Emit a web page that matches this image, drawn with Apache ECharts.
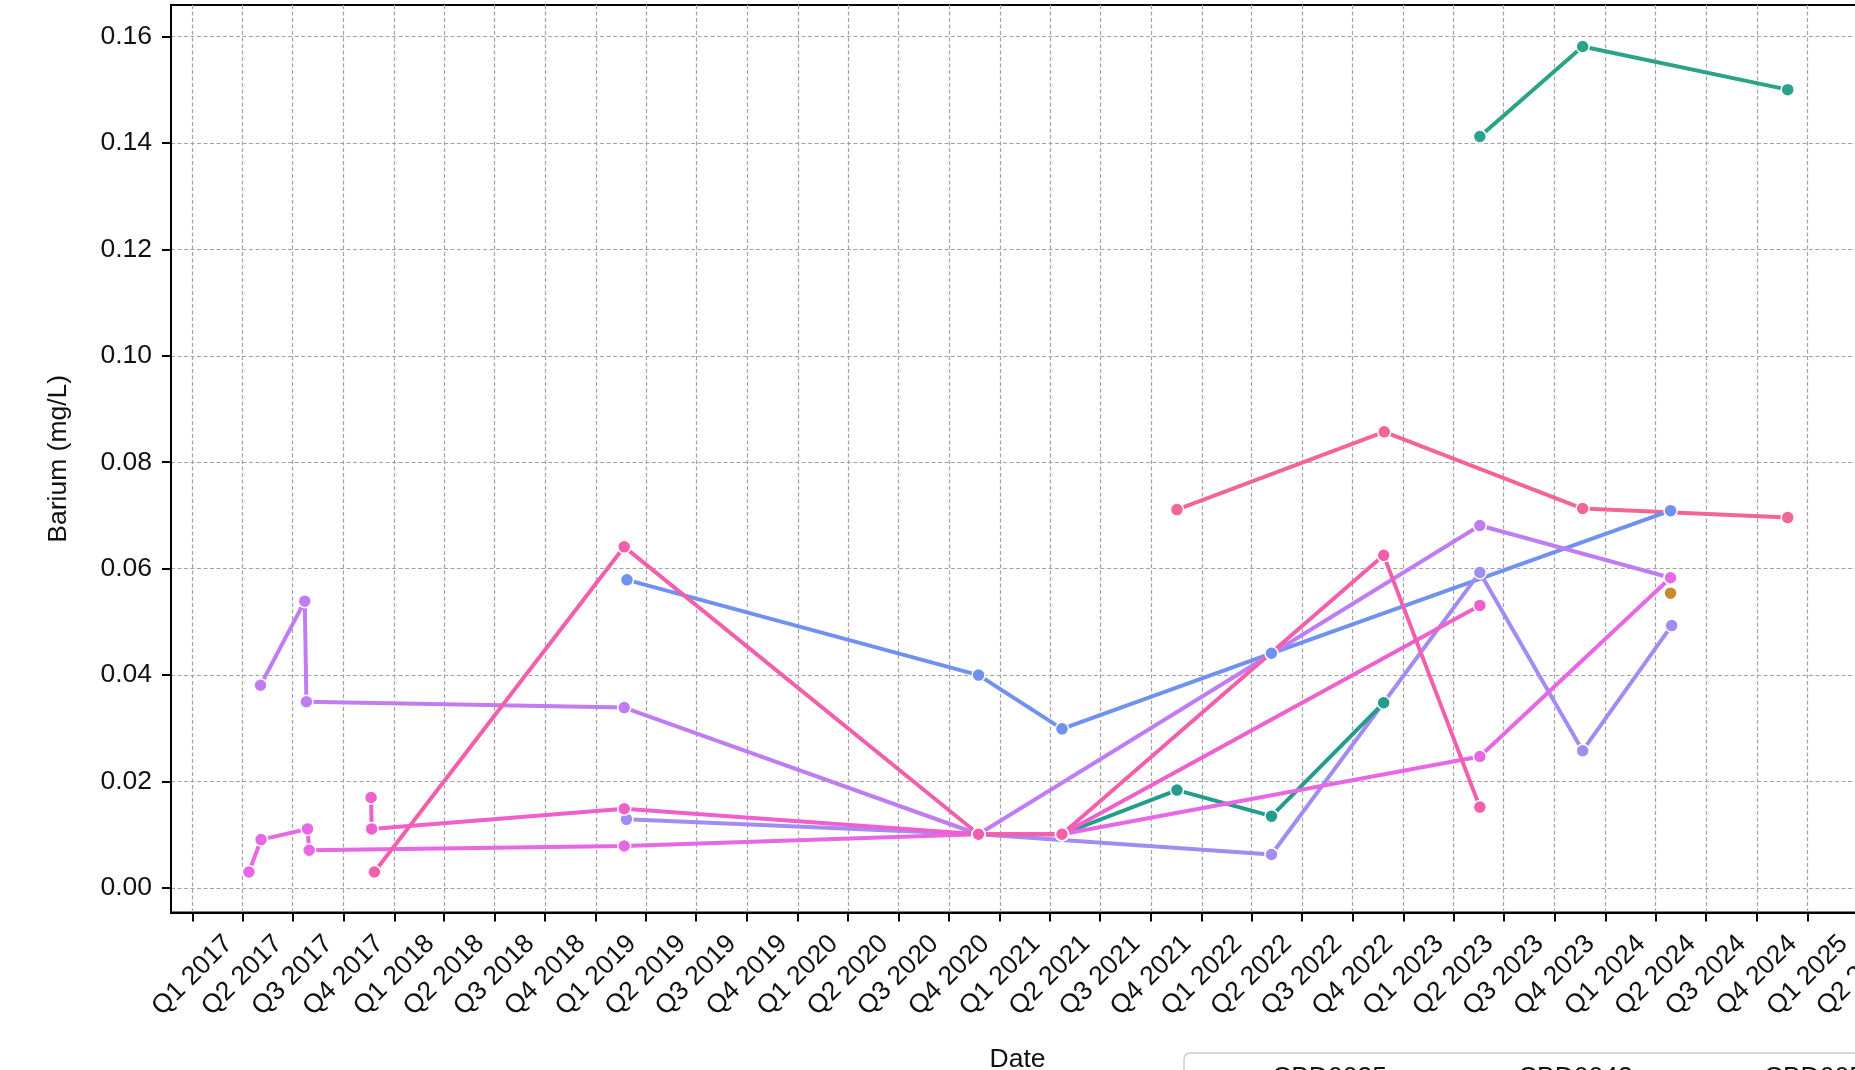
<!DOCTYPE html>
<html>
<head>
<meta charset="utf-8">
<script src="https://cdn.jsdelivr.net/npm/echarts@6/dist/echarts.min.js"></script>
<style>
html,body{margin:0;padding:0;background:#fff;overflow:hidden}
#chart{width:1855px;height:1070px}
</style>
</head>
<body>
<div id="chart"></div>
<script>
// ---- tick positions and labels ----
const quarterStarts = ['2017-01-01','2017-04-01','2017-07-01','2017-10-01','2018-01-01','2018-04-01','2018-07-01','2018-10-01','2019-01-01','2019-04-01','2019-07-01','2019-10-01','2020-01-01','2020-04-01','2020-07-01','2020-10-01','2021-01-01','2021-04-01','2021-07-01','2021-10-01','2022-01-01','2022-04-01','2022-07-01','2022-10-01','2023-01-01','2023-04-01','2023-07-01','2023-10-01','2024-01-01','2024-04-01','2024-07-01','2024-10-01','2025-01-01','2025-04-01'];
const quarterLabels = ['Q1 2017','Q2 2017','Q3 2017','Q4 2017','Q1 2018','Q2 2018','Q3 2018','Q4 2018','Q1 2019','Q2 2019','Q3 2019','Q4 2019','Q1 2020','Q2 2020','Q3 2020','Q4 2020','Q1 2021','Q2 2021','Q3 2021','Q4 2021','Q1 2022','Q2 2022','Q3 2022','Q4 2022','Q1 2023','Q2 2023','Q3 2023','Q4 2023','Q1 2024','Q2 2024','Q3 2024','Q4 2024','Q1 2025','Q2 2025'];
const yTickValues = [0, 0.02, 0.04, 0.06, 0.08, 0.10, 0.12, 0.14, 0.16];
const yTickLabels = ['0.00','0.02','0.04','0.06','0.08','0.10','0.12','0.14','0.16'];
const xMin = '2016-11-23';
const xMax = '2025-04-13';
const yMin = -0.0046;
const yMax = 0.1659;

// ---- series data ----
const legendNames = ['CBD0035','CBD0043','CBD0051','CBD0060','CBD0064','CBD0068','CBD0072','CBD0076','CBD0080','CBD0084'];

const tealHighDates = ['2023-05-19','2023-11-21','2024-11-26'];
const tealHighValues = [0.1412, 0.1581, 0.1500];

const roseDates = ['2021-11-17','2022-11-27','2023-11-21','2024-11-26'];
const roseValues = [0.0711, 0.0857, 0.0713, 0.0696];

const blueDates = ['2019-02-26','2020-11-23','2021-04-23','2022-05-07','2024-04-28'];
const blueValues = [0.0579, 0.0400, 0.0299, 0.0441, 0.0709];

const purpleDates = ['2017-05-04','2017-07-23','2017-07-26','2019-02-21','2020-11-23','2023-05-19','2024-04-28'];
const purpleValues = [0.0381, 0.0539, 0.0350, 0.0339, 0.0101, 0.0681, 0.0583];

const lavenderDates = ['2019-02-25','2020-11-23','2022-05-07','2023-05-19','2023-11-21','2024-04-30'];
const lavenderValues = [0.0129, 0.0101, 0.0063, 0.0593, 0.0258, 0.0493];

const tealLowDates = ['2021-04-23','2021-11-17','2022-05-07','2022-11-26'];
const tealLowValues = [0.0101, 0.0184, 0.0135, 0.0348];

const magentaDates = ['2017-04-13','2017-05-05','2017-07-28','2017-07-31','2019-02-21','2020-11-23','2021-04-23','2023-05-19','2024-04-28'];
const magentaValues = [0.0030, 0.0091, 0.0111, 0.0071, 0.0079, 0.0101, 0.0101, 0.0247, 0.0583];

const orchidDates = ['2017-11-20','2017-11-21','2019-02-21','2020-11-23','2021-04-23','2023-05-19'];
const orchidValues = [0.0170, 0.0111, 0.0149, 0.0101, 0.0101, 0.0531];

const hotPinkDates = ['2017-11-26','2019-02-21','2020-11-23','2021-04-23','2022-11-26','2023-05-19'];
const hotPinkValues = [0.0030, 0.0641, 0.0101, 0.0101, 0.0625, 0.0152];

const brownDates = ['2024-04-28'];
const brownValues = [0.0554];

// ---- build ----
const FONT = '"Liberation Sans", Arial, Helvetica, sans-serif';
const FS = 26.5;
const ts = s => Date.parse(s + 'T00:00:00Z');
const quarterTs = quarterStarts.map(ts);
const labelFor = v => { const i = quarterTs.findIndex(t => Math.abs(t - v) < 1000); return i >= 0 ? quarterLabels[i] : ''; };
const yLabelFor = v => { const i = yTickValues.findIndex(t => Math.abs(t - v) < 1e-9); return i >= 0 ? yTickLabels[i] : ''; };

const defs = [
  {name: legendNames[3], dates: tealHighDates, values: tealHighValues, color: '#2aa387'},
  {name: legendNames[0], dates: roseDates, values: roseValues, color: '#f26596'},
  {name: legendNames[4], dates: blueDates, values: blueValues, color: '#6f91f0'},
  {name: legendNames[5], dates: purpleDates, values: purpleValues, color: '#c07cf2'},
  {name: legendNames[6], dates: lavenderDates, values: lavenderValues, color: '#a28cf2'},
  {name: legendNames[7], dates: tealLowDates, values: tealLowValues, color: '#229c8b'},
  {name: legendNames[1], dates: magentaDates, values: magentaValues, color: '#e767e4'},
  {name: legendNames[8], dates: orchidDates, values: orchidValues, color: '#ef5fcd'},
  {name: legendNames[2], dates: hotPinkDates, values: hotPinkValues, color: '#f25fab'},
  {name: legendNames[9], dates: brownDates, values: brownValues, color: '#c98a2c'}
];

const series = defs.map(d => ({
  name: d.name,
  type: 'line',
  data: d.dates.map((dt, i) => [ts(dt), d.values[i]]),
  symbol: 'circle',
  symbolSize: 13,
  showSymbol: true,
  color: d.color,
  lineStyle: {color: d.color, width: 4},
  itemStyle: {color: d.color, borderColor: '#ffffff', borderWidth: 1.5},
  emphasis: {disabled: true},
  clip: true
}));

const chart = echarts.init(document.getElementById('chart'), null, {renderer: 'canvas'});
chart.setOption({
  animation: false,
  backgroundColor: '#ffffff',
  grid: {left: 171, top: 5, width: 1693, height: 907.5, show: true, borderColor: '#000', borderWidth: 2,
    backgroundColor: 'transparent', containLabel: false, outerBoundsMode: 'none'},
  xAxis: {
    type: 'value',
    min: ts(xMin), max: ts(xMax),
    name: 'Date', nameLocation: 'middle', nameGap: 134,
    nameTextStyle: {fontSize: FS, color: '#111', fontFamily: FONT},
    axisLine: {show: true, onZero: false, lineStyle: {color: '#000', width: 2}},
    axisTick: {show: true, inside: false, length: 9, lineStyle: {color: '#000', width: 2}, customValues: quarterTs},
    axisLabel: {show: true, customValues: quarterTs, rotate: 45, align: 'center', verticalAlign: 'middle', margin: 63,
      fontSize: FS, color: '#111', fontFamily: FONT, formatter: v => labelFor(v), hideOverlap: false},
    splitLine: {show: true, lineStyle: {color: '#a3a3a3', width: 1.2, type: [4, 2.5]}}
  },
  yAxis: {
    type: 'value',
    min: yMin, max: yMax,
    name: 'Barium (mg/L)', nameLocation: 'middle', nameGap: 99, nameRotate: 90,
    nameTextStyle: {fontSize: FS, color: '#111', fontFamily: FONT},
    axisLine: {show: true, onZero: false, lineStyle: {color: '#000', width: 2}},
    axisTick: {show: true, inside: false, length: 9, lineStyle: {color: '#000', width: 2}, customValues: yTickValues},
    axisLabel: {show: true, customValues: yTickValues, margin: 19, fontSize: FS, color: '#111', fontFamily: FONT, formatter: v => yLabelFor(v)},
    splitLine: {show: true, lineStyle: {color: '#a3a3a3', width: 1.2, type: [4, 2.5]}}
  },
  legend: {
    data: legendNames,
    left: 1184, top: 1053,
    orient: 'horizontal',
    width: 3000,
    itemWidth: 50, itemHeight: 10,
    itemGap: 60,
    padding: [11, 17, 9, 17],
    borderColor: '#cccccc', borderWidth: 1.5, borderRadius: 6,
    backgroundColor: '#ffffff',
    selectedMode: false,
    textStyle: {fontSize: FS, color: '#111', fontFamily: FONT, padding: [0, 0, 0, 15]}
  },
  series: series
});
</script>
</body>
</html>
